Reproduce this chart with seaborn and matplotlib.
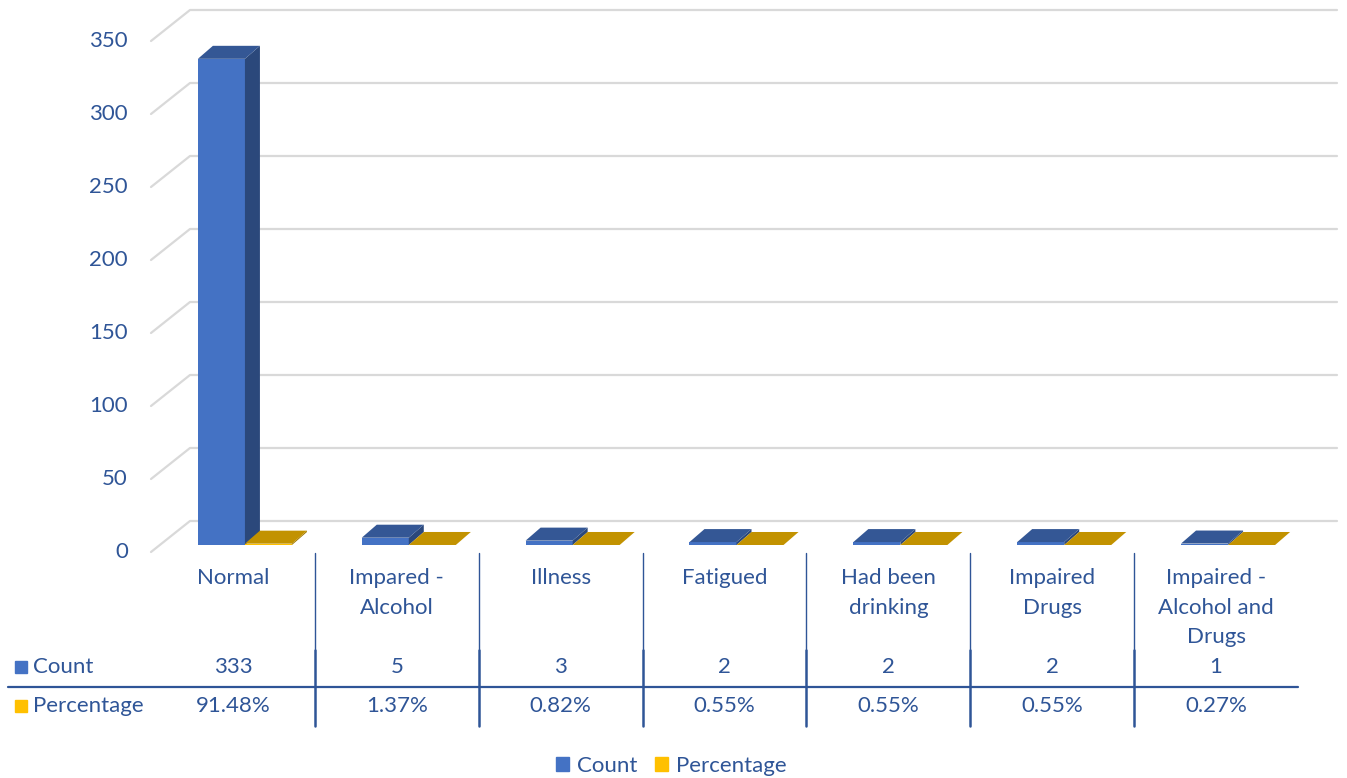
"""
Excel-style 3D clustered column chart with a data table underneath.
"""

import matplotlib
matplotlib.use('Agg')
import matplotlib.pyplot as plt
from matplotlib.patches import Polygon, Patch
import numpy as np
import pandas as pd
import seaborn as sns

# ── Data ──────────────────────────────────────────────────────────────────
categories = ['Normal', 'Impared -\nAlcohol', 'Illness', 'Fatigued',
              'Had been\ndrinking', 'Impaired\nDrugs', 'Impaired -\nAlcohol and\nDrugs']
counts = [333, 5, 3, 2, 2, 2, 1]
percentages = [0.9148, 0.0137, 0.0082, 0.0055, 0.0055, 0.0055, 0.0027]
series = ['Count', 'Percentage']
y_ticks = [0, 50, 100, 150, 200, 250, 300, 350]

df = pd.DataFrame({
    'category': categories * 2,
    'value': counts + percentages,
    'series': ['Count'] * len(categories) + ['Percentage'] * len(categories),
})

BLUE, ORANGE = '#4472C4', '#FFC000'
TXT = '#2F5597'
GRID = '#D9D9D9'

sns.set_style('white')
plt.rcParams['font.family'] = ['Lato', 'DejaVu Sans']
FS = 16

# ── Layout (pixel geometry of the bar plane) ──────────────────────────────
W, H = 1347, 778
L, R, B, T = 163, 1310, 545, 34
fig = plt.figure(figsize=(W / 100, H / 100), dpi=100)
ax = fig.add_axes([L / W, 1 - B / H, (R - L) / W, (B - T) / H])

sns.barplot(data=df, x='category', y='value', hue='series', order=categories,
            hue_order=series, palette={'Count': BLUE, 'Percentage': ORANGE},
            saturation=1, width=0.574, ax=ax, legend=False, linewidth=0)
ax.set_xlim(-0.5, len(categories) - 0.5)
ax.set_ylim(0, 350)
ax.axis('off')

sx = (R - L) / len(categories)   # px per category
sy = (B - T) / 350               # px per unit


def xd(px):
    return -0.5 + (px - L) / sx


def yd(py):
    return (B - py) / sy


FRONT = (-12, -7)   # offset of front plane from bar plane (px, up positive)
BACK = (27, 24)     # offset of back wall
DEPTH = (15, 13)    # bar depth

# Walls / gridlines
for v in y_ticks:
    fx, fy = -0.5 + FRONT[0] / sx, v + FRONT[1] / sy
    bx, by = -0.5 + BACK[0] / sx, v + BACK[1] / sy
    ax.plot([fx, bx, len(categories) - 0.5 + BACK[0] / sx], [fy, by, by],
            color=GRID, lw=1.6, zorder=0, clip_on=False)
    ax.text(fx - 23 / sx, fy, str(v), ha='right', va='center',
            fontsize=FS, color=TXT)

# 3D faces for each bar
ddx, ddy = DEPTH[0] / sx, DEPTH[1] / sy
for i, p in enumerate(ax.patches):
    x0, w, h = p.get_x(), p.get_width(), p.get_height()
    c = np.array(p.get_facecolor()[:3])
    z = 2 + i * 0.01
    p.set_zorder(z)
    p.set_clip_on(False)
    top = [(x0, h), (x0 + w, h), (x0 + w + ddx, h + ddy), (x0 + ddx, h + ddy)]
    side = [(x0 + w, 0), (x0 + w, h), (x0 + w + ddx, h + ddy), (x0 + w + ddx, ddy)]
    ax.add_patch(Polygon(side, closed=True, fc=c * 0.63, lw=0, zorder=z, clip_on=False))
    ax.add_patch(Polygon(top, closed=True, fc=c * 0.76, lw=0, zorder=z, clip_on=False))

# ── Data table ────────────────────────────────────────────────────────────
for k, cat in enumerate(categories):
    xc = k + FRONT[0] / sx
    ax.text(xc, yd(568), cat, ha='center', va='top', fontsize=FS,
            color=TXT, linespacing=1.6)
    ax.text(xc, yd(667), f'{counts[k]}', ha='center', va='center',
            fontsize=FS, color=TXT)
    ax.text(xc, yd(706), f'{percentages[k]:.2%}', ha='center', va='center',
            fontsize=FS, color=TXT)

for k in range(len(categories) - 1):
    xb = k + 0.5 + FRONT[0] / sx
    ax.plot([xb, xb], [yd(553), yd(650)], color=TXT, lw=1.0, clip_on=False)
    ax.plot([xb, xb], [yd(650), yd(726)], color=TXT, lw=1.8, clip_on=False)
ax.plot([xd(8), xd(1298)], [yd(687), yd(687)], color=TXT, lw=1.6, clip_on=False)

for name, col, py in [('Count', BLUE, 667), ('Percentage', ORANGE, 706)]:
    ax.plot([xd(21)], [yd(py)], marker='s', ms=8, color=col, clip_on=False)
    ax.text(xd(33), yd(py), name, ha='left', va='center', fontsize=FS, color=TXT)

# ── Legend ────────────────────────────────────────────────────────────────
handles = [Patch(color=BLUE, label='Count'), Patch(color=ORANGE, label='Percentage')]
fig.legend(handles=handles, loc='center', bbox_to_anchor=(671 / W, 1 - 766 / H),
           ncol=2, frameon=False, fontsize=FS, labelcolor=TXT,
           handlelength=0.6, handleheight=0.6, handletextpad=0.35, columnspacing=0.8)

fig.savefig('out.png', dpi=100, facecolor='white')
